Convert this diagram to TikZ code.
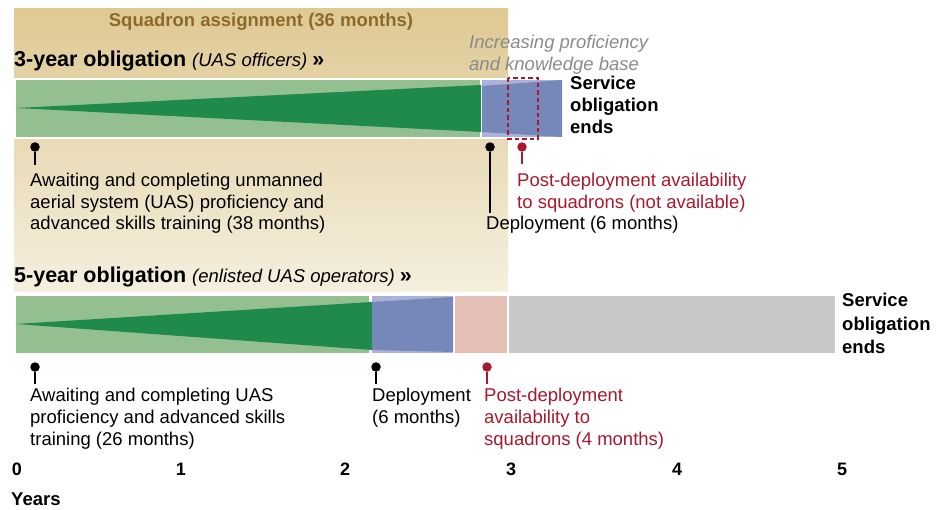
\documentclass[tikz,border=0pt]{standalone}
\usepackage{fontspec}
\setmainfont{Liberation Sans}
\definecolor{tanT}{HTML}{DFC993}
\definecolor{tanB}{HTML}{F5EFDF}
\definecolor{lgreen}{HTML}{93BF91}
\definecolor{dgreen}{HTML}{1F8A4B}
\definecolor{lblue}{HTML}{AAB2DA}
\definecolor{dblue}{HTML}{7688BA}
\definecolor{lpink}{HTML}{E4BFB6}
\definecolor{lgray}{HTML}{C8C8C8}
\definecolor{dred}{HTML}{A6192E}
\definecolor{brownt}{HTML}{8C6A2C}
\definecolor{grayt}{HTML}{8A8A8A}
\tikzset{
  body/.style={inner sep=0pt, anchor=base west, font=\fontsize{18.5}{21.5}\selectfont},
  bodyb/.style={inner sep=0pt, anchor=base west, font=\fontsize{18.5}{21.5}\selectfont\bfseries},
  titleb/.style={inner sep=0pt, anchor=base west, font=\fontsize{21.5}{24}\selectfont\bfseries},
  redtxt/.style={body, text=dred},
  yearlbl/.style={inner sep=0pt, anchor=base, font=\fontsize{18}{21}\selectfont\bfseries},
  pindot/.style={circle, fill=#1, inner sep=0pt, minimum size=9.5pt},
  pinline/.style={draw=#1, line width=1.3pt},
}
\begin{document}
\begin{tikzpicture}[x=1pt,y=-1pt]
\useasboundingbox (0,0) rectangle (944,510);
% squadron assignment background
\shade[top color=tanT, bottom color=tanB] (14,9) rectangle (508,292);
\node[inner sep=0pt, anchor=base, text=brownt, font=\fontsize{18.5}{21.5}\selectfont\bfseries] (sq) at (261,27) {Squadron assignment (36 months)};

% ---- 3-year bar ----
\node[titleb] (t3) at (14,67) {3-year obligation \fontsize{18.5}{21.5}\selectfont\mdseries\itshape (UAS officers) \fontsize{21.5}{24}\selectfont\upshape\bfseries »};
\node[body, text=grayt, font=\fontsize{18.5}{21.5}\selectfont\itshape] (inc1) at (469,49) {Increasing proficiency};
\node[body, text=grayt, font=\fontsize{18.5}{21.5}\selectfont\itshape] (inc2) at (469,71) {and knowledge base};
\fill[white] (14,78) rectangle (508,139);
\fill[lgreen] (16,80) rectangle (480,137);
\fill[dgreen] (16,108) -- (481,85) -- (481,132) -- cycle;
\fill[lblue] (482,80) rectangle (562,137);
\fill[dblue] (482,86) -- (562,80) -- (562,137) -- (482,132) -- cycle;
\draw[dred, line width=2pt, dash pattern=on 4.5pt off 3pt] (508,78) rectangle (538,139);
\node[bodyb] (se1) at (570,90) {Service};
\node[bodyb] (se2) at (570,112) {obligation};
\node[bodyb] (se3) at (570,134) {ends};

% pins 3-year
\node[pindot=black] (p1) at (35,147) {};
\coordinate (p1e) at (35,165);
\draw[pinline=black] (p1) -- (p1e);
\node[pindot=black] (p2) at (490,147) {};
\coordinate (p2e) at (490,213);
\draw[pinline=black] (p2) -- (p2e);
\node[pindot=dred] (p3) at (522,147) {};
\coordinate (p3e) at (522,164);
\draw[pinline=dred] (p3) -- (p3e);

\node[body] (a1) at (30,187) {Awaiting and completing unmanned};
\node[body] (a2) at (30,208.5) {aerial system (UAS) proficiency and};
\node[body] (a3) at (30,230) {advanced skills training (38 months)};
\node[body] (d1) at (486,230) {Deployment (6 months)};
\node[redtxt] (r1) at (517,187) {Post-deployment availability};
\node[redtxt] (r2) at (517,208.5) {to squadrons (not available)};

% ---- 5-year bar ----
\node[titleb] (t5) at (14,283) {5-year obligation \fontsize{18.5}{21.5}\selectfont\mdseries\itshape (enlisted UAS operators) \fontsize{21.5}{24}\selectfont\upshape\bfseries »};
\fill[white] (14,294) rectangle (508,355);
\fill[lgreen] (16,296) rectangle (369,353);
\fill[dgreen] (16,324) -- (372,302) -- (372,350) -- cycle;
\fill[lblue] (372,296) rectangle (453,353);
\fill[dblue] (372,302) -- (453,297) -- (453,352) -- (372,350) -- cycle;
\fill[lpink] (455,296) rectangle (507,353);
\fill[lgray] (509,296) rectangle (835,353);
\node[bodyb] (sf1) at (842,307) {Service};
\node[bodyb] (sf2) at (842,330) {obligation};
\node[bodyb] (sf3) at (842,353) {ends};

% pins 5-year
\node[pindot=black] (q1) at (35,367) {};
\coordinate (q1e) at (35,384);
\draw[pinline=black] (q1) -- (q1e);
\node[pindot=black] (q2) at (376,367) {};
\coordinate (q2e) at (376,384);
\draw[pinline=black] (q2) -- (q2e);
\node[pindot=dred] (q3) at (487,367) {};
\coordinate (q3e) at (487,384);
\draw[pinline=dred] (q3) -- (q3e);

\node[body] (b1) at (30,401) {Awaiting and completing UAS};
\node[body] (b2) at (30,423) {proficiency and advanced skills};
\node[body] (b3) at (30,445) {training (26 months)};
\node[body] (e1) at (372,401) {Deployment};
\node[body] (e2) at (372,423) {(6 months)};
\node[redtxt] (f1) at (484,401) {Post-deployment};
\node[redtxt] (f2) at (484,423) {availability to};
\node[redtxt] (f3) at (484,445) {squadrons (4 months)};

% axis
\node[yearlbl] (y0) at (17,475) {0};
\node[yearlbl] (y1) at (181,475) {1};
\node[yearlbl] (y2) at (345,475) {2};
\node[yearlbl] (y3) at (511,475) {3};
\node[yearlbl] (y4) at (677,475) {4};
\node[yearlbl] (y5) at (842,475) {5};
\node[bodyb] (yrs) at (11,505.5) {Years};
\end{tikzpicture}
\end{document}
